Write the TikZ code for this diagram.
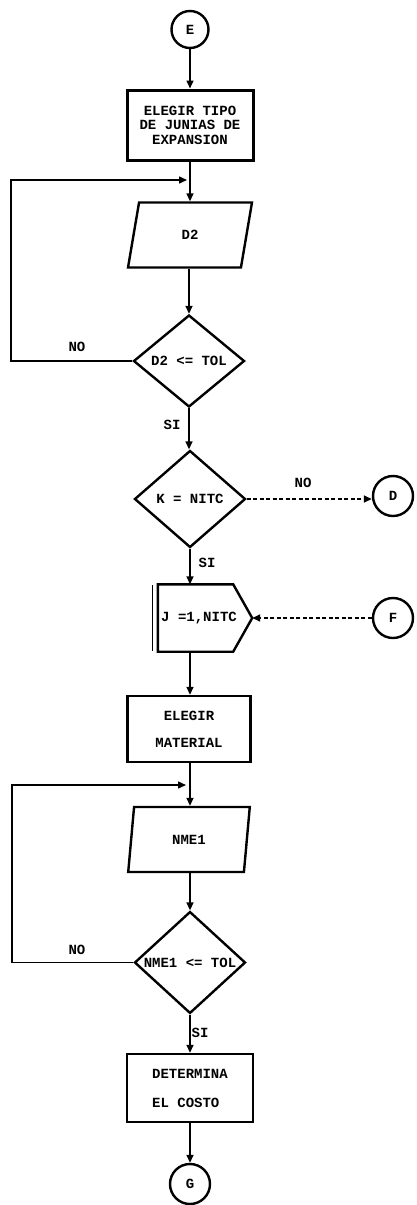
\documentclass[tikz,border=0pt]{standalone}
\usepackage{fontspec}
\newfontfamily\dotfont{Liberation Mono}
\usetikzlibrary{shapes.geometric,arrows.meta,calc}
\begin{document}
\begin{tikzpicture}[x=1pt,y=-1pt,
  every node/.style={font=\dotfont\bfseries\fontsize{14}{15}\selectfont},
  shapeline/.style={draw, line width=2.4pt},
  conn/.style={line width=1.5pt},
  arr/.style={conn, -{Triangle[length=8pt,width=7pt]}},
  darr/.style={arr, dash pattern=on 4pt off 2.5pt},
  procbox/.style={shapeline, rectangle, minimum width=124pt, minimum height=67pt, inner sep=2pt},
  iobox/.style={shapeline, trapezium, trapezium left angle=79, trapezium right angle=101, trapezium stretches=true, minimum width=124pt, minimum height=65pt, inner sep=0pt},
  decide/.style={shapeline, diamond, minimum width=111pt, minimum height=93pt, inner sep=0pt},
  conn circle/.style={shapeline, circle, minimum size=40pt, inner sep=0pt},
  lbl/.style={inner sep=0pt}]
\useasboundingbox (0,0) rectangle (416,1205);
% nodes
\node[conn circle, minimum size=37pt] (E) at (190,29.5) {E};
\node[procbox, line width=3pt, minimum width=126pt, minimum height=70pt, align=center,
      font=\dotfont\bfseries\fontsize{14}{14.5}\selectfont] (b1) at (190,125) {ELEGIR TIPO\\DE JUNIAS DE\\EXPANSION};
\node[iobox] (p1) at (190,235) {D2};
\node[decide, minimum height=92pt] (d1) at (189,361) {D2 <= TOL};
\node[decide, minimum height=97pt] (d2) at (190,499) {K = NITC};
\node[conn circle] (D) at (393,496) {D};
\node[minimum width=94pt, minimum height=67pt, inner sep=0pt] (lp) at (205,618) {};
\node[lbl, anchor=west] (lpt) at (161,618) {J =1,NITC};
\node[conn circle] (F) at (393,618) {F};
\node[procbox, minimum width=123pt, minimum height=66pt, align=center,
      font=\dotfont\bfseries\fontsize{14}{27}\selectfont] (b2) at (189,729) {ELEGIR\\MATERIAL};
\node[iobox, minimum width=122pt] (p2) at (189,839.5) {NME1};
\node[decide, minimum height=91pt] (d3) at (190,962.5) {NME1 <= TOL};
\node[procbox, minimum width=126pt, minimum height=68pt, align=left,
      font=\dotfont\bfseries\fontsize{14}{29}\selectfont] (b3) at (190,1088) {DETERMINA\\EL COSTO};
\node[conn circle] (G) at (190,1184) {G};
% loop shape
\draw[shapeline, line join=miter] (lp.north west) -- ($(lp.north east)+(-19,0)$) -- (lp.east)
   -- ($(lp.south east)+(-19,0)$) -- (lp.south west) -- cycle;
\draw[line width=1pt] ($(lp.north west)+(-5,1)$) -- ($(lp.south west)+(-5,-1)$);
% coordinates
\coordinate (c1) at (187,180);
\coordinate (l1) at (11,180);
\coordinate (c2) at (186,785);
\coordinate (l2) at (12,785);
% connectors
\draw[arr] (E) -- (b1);
\draw[arr] (b1) -- (b1.south |- p1.north);
\draw[arr] (p1.south -| d1.north) -- (d1);
\draw[arr] (d1.west) -| (l1) -- (c1);
\node[lbl] at (77,347) {NO};
\draw[arr] (d1.south) -- (d1.south |- d2.north);
\node[lbl] at (172,425) {SI};
\draw[darr] (d2.east) -- (d2.east -| D.west);
\node[lbl] at (303,483) {NO};
\draw[arr] (d2.south) -- (d2.south |- lp.north);
\node[lbl] at (207,563) {SI};
\draw[darr] (F.west) -- (lp.east);
\draw[arr] (d2.south |- lp.south) -- (d2.south |- b2.north);
\draw[arr] (b2.south -| d2.south) -- (d2.south |- p2.north);
\draw[arr] (d2.south |- p2.south) -- (d3.north);
\draw[arr] (d3.west) -| (l2) -- (c2);
\node[lbl] at (77,950) {NO};
\draw[arr] (d3.south) -- (b3.north);
\node[lbl] at (200,1033) {SI};
\draw[arr] (b3.south) -- (G.north);
\end{tikzpicture}
\end{document}
